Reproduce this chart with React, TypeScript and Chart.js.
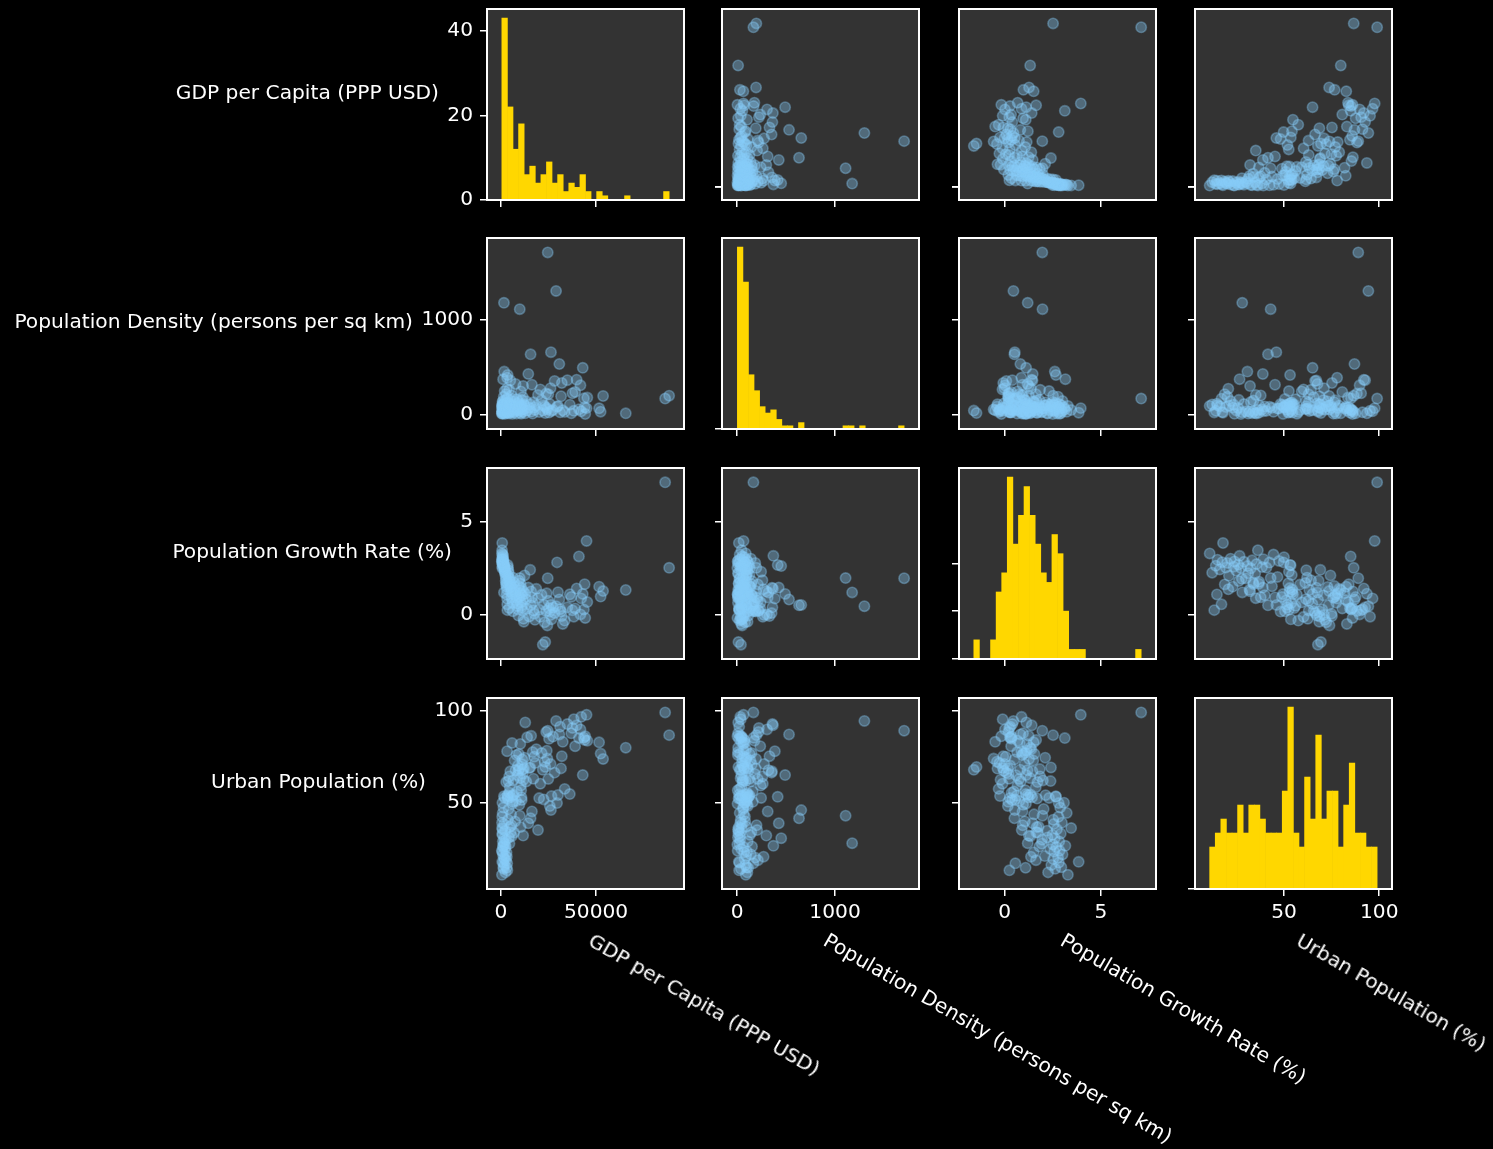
import { useEffect, useRef } from 'react';
import { Chart, registerables } from 'chart.js';

Chart.register(...registerables);

// Variables shown in the scatter matrix (rows and columns share this order)
const variableNames = [
  'GDP per Capita (PPP USD)',
  'Population Density (persons per sq km)',
  'Population Growth Rate (%)',
  'Urban Population (%)',
];

// One entry per country, same order in every array
const gdpPerCapita = [
  700, 620, 540, 910, 1150, 800, 1040, 580, 1290, 760, 1360, 500, 980, 1220, 660, 1500, 870, 1100, 1580, 1430,
  1740, 740, 1660, 1900, 2080, 820, 1820, 2170, 1990, 2350, 2260, 2440, 2620, 2530, 2800, 2710, 2980, 3160, 1600, 3070,
  3250, 3330, 3400,
  3550, 3750, 3900, 4200, 3480, 4050, 4500, 4350, 4800, 3600, 5100, 4650, 5400, 4950, 5700, 5250, 6000, 5550, 5850, 6150,
  4420, 6250,
  6450, 6950, 7200, 6700, 7700, 7450, 8200, 7950, 8700, 8450, 8950, 9200,
  9900, 9550, 10350, 9400, 10800, 10050, 11700, 10200, 10650, 11100, 9700, 11400, 10500, 11250, 10950, 11550, 11850, 12050,
  12400, 14400, 12800, 13300, 13800, 14900,
  15600, 15400, 15900, 16300, 16700, 17100, 17500, 17900,
  18600, 19500, 20100, 20700,
  22000, 23300, 21400, 22500, 23800, 23000,
  24600, 26300, 24100, 24900, 25300, 25700, 26100, 26600, 24400,
  29000, 29500, 27400, 28200,
  30700, 30000, 31100, 31600, 32000, 32500,
  34900, 33500,
  36200, 37000, 37600, 38300,
  41000, 39800, 39000,
  44000, 43000, 42200, 43600, 41800, 44300,
  45000, 45400,
  51600, 52400,
  53700,
  65600,
  86300, 88400,
];

const popDensity = [
  17, 45, 88, 26, 370, 72, 140, 33, 96, 12, 62, 5, 108, 23, 80, 185, 9, 66, 120, 38,
  450, 100, 50, 76, 2, 130, 84, 41, 245, 104, 14, 92, 30, 152, 55, 212, 70, 270, 1175, 112,
  385, 165, 20,
  414, 36, 86, 8, 125, 60, 22, 258, 94, 15, 145, 44, 68, 355, 28, 110, 4, 198, 78, 52,
  102, 160,
  64, 31, 135, 19, 320, 82, 7, 98, 43, 158, 57, 114,
  1108, 74, 16, 128, 85, 35, 298, 63, 6, 150, 99, 27, 240, 90, 47, 180, 54, 106,
  93, 425, 11, 138, 40, 69,
  632, 105, 29, 312, 8, 126, 71, 48,
  91, 204, 24, 262,
  39, 13, 147, 97, 218, 81,
  1706, 655, 67, 210, 18, 109, 275, 34, 51,
  1300, 79, 46, 352,
  530, 87, 21, 190, 330, 42,
  360, 25,
  101, 10, 222, 37,
  53, 365, 236,
  73, 490, 32, 168, 305, 3,
  65, 176,
  63, 28,
  193,
  10,
  166, 196,
];

const popGrowth = [
  3.84, 3.45, 3.28, 3.22, 3.15, 3.08, 3.0, 2.97, 2.94, 2.91, 2.88, 2.85, 2.83, 2.81, 2.79, 2.77, 2.71, 2.68, 2.65, 2.62,
  2.6, 2.57, 2.55, 2.52, 2.5, 2.48, 2.42, 2.36, 2.3, 2.25, 2.2, 2.08, 1.94, 1.8, 1.7, 1.62, 1.5, 1.36, 1.19, 1.08,
  0.86, 0.55, 0.24,
  2.66, 2.52, 2.38, 2.22, 2.12, 2.02, 1.92, 1.84, 1.76, 1.68, 1.64, 1.61, 1.52, 1.44, 1.33, 1.22, 1.1, 0.93, 0.78, 0.62,
  0.35, 0.18,
  1.98, 1.72, 1.48, 1.34, 1.18, 1.04, 0.9, 0.76, 0.58, 0.47, 0.28, -0.05,
  1.96, 1.82, 1.66, 1.54, 1.42, 1.32, 1.25, 1.15, 1.07, 1.03, 0.95, 0.8, 0.66, 0.5, 0.38, 0.2, -0.22, -0.38,
  2.1, 1.45, 1.12, 0.83, 0.31, -0.1,
  0.5, 2.4, 1.24, 0.92, 0.64, 0.22, 0.05, -0.28,
  1.38, 0.88, 0.26, -0.12,
  -1.61, -1.47, 1.06, 0.54, 0.19, -0.41,
  1.95, 0.52, 1.14, 0.74, 0.34, 0.16, -0.02, -0.25, -0.58,
  0.45, 2.8, 0.37, 0.08,
  0.81, 1.2, 0.29, 0.17, -0.08, -0.5,
  0.39, -0.32,
  1.09, 0.95, 0.23, -0.11,
  3.12, 1.4, 0.33,
  1.63, 1.11, 0.87, 0.27, 0.01, -0.18,
  3.95, 0.67,
  1.5, 0.97,
  1.26,
  1.32,
  7.09, 2.51,
];

const urbanPop = [
  18.0, 36.3, 11.0, 44.5, 26.7, 50.0, 22.0, 39.2, 15.1, 33.3, 47.4, 24.0, 29.0, 17.6, 42.4, 20.3, 35.6, 26.0, 53.5, 14.2,
  30.8, 23.6, 38.5, 19.5, 27.4, 32.6, 16.3, 24.9, 52.6, 12.3, 34.9, 21.1, 30.0, 26.3, 61.2, 18.9, 23.1, 20.8, 28.1, 14.8,
  77.9, 17.2, 13.4,
  53.2, 40.8, 61.7, 31.2, 54.1, 46.6, 27.9, 64.2, 37.0, 52.3, 34.0, 58.4, 43.7, 67.0, 31.9, 52.9, 49.5, 37.8, 82.4, 53.8,
  55.4, 50.5,
  62.1, 33.8, 72.9, 54.4, 67.6, 39.9, 75.9, 51.0, 64.9, 56.1, 70.1, 67.3,
  43.0, 68.2, 36.8, 76.4, 53.0, 63.3, 32.2, 81.8, 56.8, 70.8, 48.9, 67.9, 59.3, 73.4, 51.5, 65.6, 62.5, 68.5,
  74.4, 38.9, 93.5, 61.5, 85.4, 68.8,
  41.6, 69.1, 86.2, 45.3, 77.4, 63.0, 74.9, 71.5,
  79.0, 35.2, 52.5, 60.3,
  67.8, 69.4, 76.9, 51.8, 88.3, 72.2,
  89.0, 46.0, 78.2, 62.9, 84.6, 48.2, 71.0, 53.6, 73.9,
  94.3, 49.8, 85.8, 66.3,
  87.0, 54.2, 91.2, 68.6, 75.2, 83.0,
  92.6, 57.5,
  54.7, 87.6, 90.5, 95.2,
  85.0, 91.9, 80.6,
  84.0, 65.0, 96.5, 85.2, 89.7, 86.0,
  97.6, 83.6,
  82.7, 76.6,
  73.7,
  79.8,
  98.9, 86.6,
];

// Axis ranges for each variable
const gdpLimits = [-7300, 96200];
const densityLimits = [-155, 1858];
const growthLimits = [-2.38, 7.86];
const urbanLimits = [3.3, 106.7];

// Tick values along each column (x) and each row (y)
const colTicks = [
  [0, 50000],
  [0, 1000],
  [0, 5],
  [0, 50, 100],
];
const rowTicks = [
  [0, 20, 40],
  [0, 1000],
  [0, 5, 10],
  [0, 50, 100],
];

const variables = [gdpPerCapita, popDensity, popGrowth, urbanPop];
const limits = [gdpLimits, densityLimits, growthLimits, urbanLimits];

const HIST_BINS = 30;
const HIST_COLOR = '#FFD700';
const POINT_COLOR = 'rgba(135, 206, 250, 0.36)';
const PANEL_BG = '#333333';
const FONT_FAMILY = 'DejaVu Sans';
const FONT_PX = 20.2;
const TEXT_BOX = 23.5;

// Grid geometry
const PANEL_LEFT = [487, 722, 959, 1195];
const PANEL_TOP = [9, 238, 468, 698];
const PANEL_W = 197;
const PANEL_H = 191;
const AXIS_W = 90;
const AXIS_H = 50;
const PAD_T = 26;
const PAD_R = 40;
const CANVAS_W = AXIS_W + PANEL_W + PAD_R;
const CANVAS_H = PAD_T + PANEL_H + AXIS_H;
const ROW_LABEL_RIGHT = [439, 413, 452, 426];
const COL_LABEL_TOP = 929;

Chart.defaults.font.family = FONT_FAMILY;

function histogram(values: number[], bins: number) {
  const lo = Math.min(...values);
  const hi = Math.max(...values);
  const width = (hi - lo) / bins;
  const counts = new Array(bins).fill(0);
  for (const v of values) {
    let i = Math.floor((v - lo) / width);
    if (i >= bins) i = bins - 1;
    counts[i] += 1;
  }
  return counts.map((c, i) => ({ x: lo + width * (i + 0.5), y: c > 0 ? c : null }));
}

// Dark panel background and white frame around the plotting area
const panelFrame = {
  id: 'panelFrame',
  beforeDraw(chart: any) {
    const { ctx, chartArea: a } = chart;
    ctx.save();
    ctx.fillStyle = PANEL_BG;
    ctx.fillRect(a.left, a.top, a.right - a.left, a.bottom - a.top);
    ctx.restore();
  },
  afterDraw(chart: any) {
    const { ctx, chartArea: a } = chart;
    ctx.save();
    ctx.strokeStyle = '#ffffff';
    ctx.lineWidth = 2;
    ctx.strokeRect(a.left, a.top, a.right - a.left, a.bottom - a.top);
    ctx.restore();
  },
};

function buildConfig(row: number, col: number) {
  const isHist = row === col;
  const xVals = variables[col];
  const [xMin, xMax] = limits[col];
  let yMin: number;
  let yMax: number;
  let datasets: any[];

  if (isHist) {
    const bins = histogram(xVals, HIST_BINS);
    const peak = Math.max(...bins.map((b) => b.y ?? 0));
    yMin = 0;
    yMax = peak * 1.05;
    datasets = [
      {
        data: bins,
        backgroundColor: HIST_COLOR,
        borderWidth: 0,
        barPercentage: 1,
        categoryPercentage: 1,
      },
    ];
  } else {
    const yVals = variables[row];
    [yMin, yMax] = limits[row];
    datasets = [
      {
        data: xVals.map((x, i) => ({ x, y: yVals[i] })),
        pointRadius: 5.2,
        pointHoverRadius: 5.2,
        pointBorderWidth: 1.6,
        pointBackgroundColor: POINT_COLOR,
        pointBorderColor: POINT_COLOR,
        backgroundColor: POINT_COLOR,
        borderColor: POINT_COLOR,
      },
    ];
  }

  const tickFont = { family: FONT_FAMILY, size: FONT_PX };
  const gridOpts = {
    display: true,
    drawOnChartArea: false,
    drawTicks: true,
    tickLength: 7,
    color: '#ffffff',
    lineWidth: 1.5,
    offset: false,
  };

  return {
    type: isHist ? 'bar' : 'scatter',
    data: { datasets },
    plugins: [panelFrame],
    options: {
      animation: false,
      responsive: false,
      maintainAspectRatio: false,
      devicePixelRatio: 1,
      events: [],
      layout: { padding: { left: 0, right: PAD_R, top: PAD_T, bottom: 0 } },
      plugins: { legend: { display: false }, tooltip: { enabled: false } },
      scales: {
        x: {
          type: 'linear',
          position: 'bottom',
          min: xMin,
          max: xMax,
          offset: false,
          afterBuildTicks: (s: any) => {
            s.ticks = colTicks[col].filter((v) => v >= xMin && v <= xMax).map((v) => ({ value: v }));
          },
          afterFit: (s: any) => {
            s.height = AXIS_H;
          },
          ticks: {
            autoSkip: false,
            maxRotation: 0,
            minRotation: 0,
            padding: 5,
            color: '#ffffff',
            font: tickFont,
            callback: (v: number) => (row === 3 ? String(v) : ''),
          },
          grid: gridOpts,
          border: { display: false },
        },
        y: {
          type: 'linear',
          position: 'left',
          min: yMin,
          max: yMax,
          afterBuildTicks: (s: any) => {
            s.ticks = rowTicks[row].filter((v) => v >= yMin && v <= yMax).map((v) => ({ value: v }));
          },
          afterFit: (s: any) => {
            s.width = AXIS_W;
          },
          ticks: {
            autoSkip: false,
            padding: 7,
            color: '#ffffff',
            font: tickFont,
            callback: (v: number) => (col === 0 ? String(v) : ''),
          },
          grid: gridOpts,
          border: { display: false },
        },
      },
    },
  };
}

const cells: { row: number; col: number }[] = [];
for (let r = 0; r < 4; r++) for (let c = 0; c < 4; c++) cells.push({ row: r, col: c });

export default function App() {
  const canvasRefs = useRef<(HTMLCanvasElement | null)[]>([]);

  useEffect(() => {
    document.documentElement.style.background = '#000';
    document.body.style.background = '#000';
    document.body.style.margin = '0';
    document.body.style.overflow = 'hidden';
    const charts: Chart[] = [];
    cells.forEach(({ row, col }, i) => {
      const el = canvasRefs.current[i];
      if (el) charts.push(new Chart(el, buildConfig(row, col) as any));
    });
    return () => charts.forEach((ch) => ch.destroy());
  }, []);

  const textStyle = {
    position: 'absolute' as const,
    fontFamily: FONT_FAMILY,
    fontSize: `${FONT_PX}px`,
    lineHeight: `${TEXT_BOX}px`,
    whiteSpace: 'nowrap' as const,
    color: '#ffffff',
  };

  return (
    <div
      style={{
        position: 'absolute',
        left: 0,
        top: 0,
        width: 1493,
        height: 1149,
        background: '#000',
        overflow: 'hidden',
      }}
    >
      {cells.map(({ row, col }, i) => (
        <canvas
          key={`${row}-${col}`}
          ref={(el) => {
            canvasRefs.current[i] = el;
          }}
          width={CANVAS_W}
          height={CANVAS_H}
          style={{
            position: 'absolute',
            left: PANEL_LEFT[col] - AXIS_W,
            top: PANEL_TOP[row] - PAD_T,
            width: CANVAS_W,
            height: CANVAS_H,
          }}
        />
      ))}
      {variableNames.map((name, r) => (
        <div
          key={`row-${r}`}
          style={{
            ...textStyle,
            right: 1493 - ROW_LABEL_RIGHT[r],
            top: PANEL_TOP[r] + PANEL_H / 2 - TEXT_BOX,
            textAlign: 'right',
          }}
        >
          {name}
        </div>
      ))}
      {variableNames.map((name, c) => (
        <div
          key={`col-${c}`}
          style={{
            ...textStyle,
            left: PANEL_LEFT[c] + PANEL_W / 2 + 10,
            top: COL_LABEL_TOP,
            transformOrigin: '0 0',
            transform: 'rotate(30deg)',
          }}
        >
          {name}
        </div>
      ))}
    </div>
  );
}
